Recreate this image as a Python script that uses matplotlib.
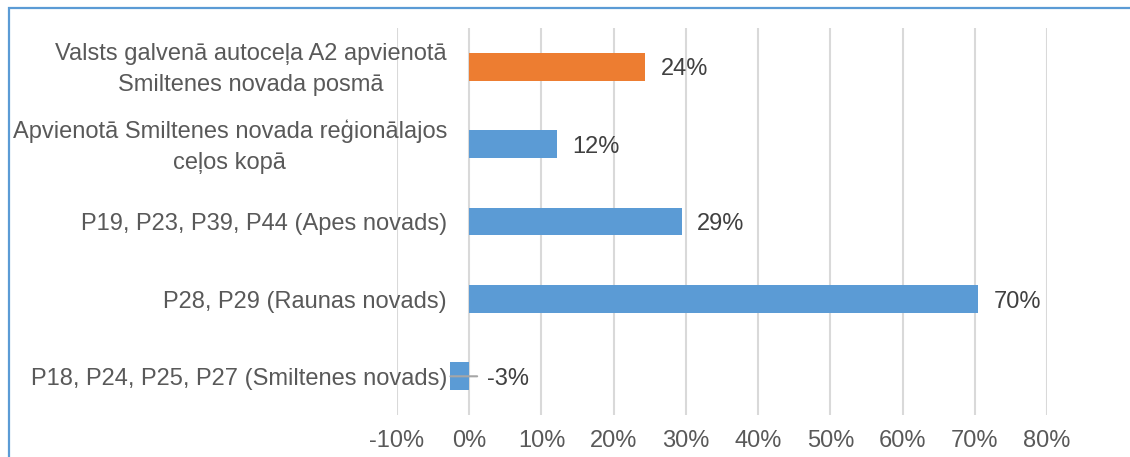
import matplotlib.pyplot as plt
from matplotlib.patches import Rectangle

plt.rcParams['font.family'] = ['Liberation Sans', 'DejaVu Sans']

# road sections, bottom to top
sections = [
    "P18, P24, P25, P27 (Smiltenes novads)",
    "P28, P29 (Raunas novads)",
    "P19, P23, P39, P44 (Apes novads)",
    "Apvienotā Smiltenes novada reģionālajos\nceļos kopā",
    "Valsts galvenā autoceļa A2 apvienotā\nSmiltenes novada posmā",
]
change_pct = [-2.6, 70.5, 29.4, 12.2, 24.4]
bar_colors = ["#5B9BD5", "#5B9BD5", "#5B9BD5", "#5B9BD5", "#ED7D31"]
x_ticks = [-10, 0, 10, 20, 30, 40, 50, 60, 70, 80]

fig = plt.figure(figsize=(11.3, 4.57), dpi=100)
ax = fig.add_axes([397 / 1130, 42 / 457, 650 / 1130, 387 / 457])

# chart frame, only its top-left corner is in view
fig.add_artist(Rectangle((9 / 1130, -0.1), 1.2, 1.1 - 8 / 457,
                         transform=fig.transFigure, fill=False,
                         edgecolor="#5B9BD5", linewidth=1.6))

ypos = list(range(len(sections)))
ax.barh(ypos, change_pct, height=0.36, color=bar_colors, zorder=3)

# category names hang off the zero line, lines centred within each label
for y, name in zip(ypos, sections):
    ax.annotate(name, xy=(0, y), xytext=(-16, -2), textcoords="offset points",
                ha="right", va="center", multialignment="center",
                linespacing=1.5, fontsize=17, color="#595959",
                annotation_clip=False)

for y, v in zip(ypos, change_pct):
    label = "%.0f%%" % v
    if v >= 0:
        ax.annotate(label, xy=(v, y), xytext=(11, -2), textcoords="offset points",
                    va="center", ha="left", fontsize=17, color="#404040")
    else:
        # label sits right of zero, tied to the bar with a leader line
        ax.annotate(label, xy=(0, y), xytext=(12.5, -2), textcoords="offset points",
                    va="center", ha="left", fontsize=17, color="#404040")
        ax.annotate("", xy=(v, y), xytext=(1.1, y),
                    arrowprops=dict(arrowstyle="-", color="#A6A6A6", lw=1.5,
                                    shrinkA=0, shrinkB=0), zorder=4)

ax.set_xlim(-10, 80)
ax.set_ylim(-0.5, len(sections) - 0.5)
ax.set_xticks(x_ticks)
ax.set_xticklabels(["%d%%" % t for t in x_ticks])
ax.grid(axis="x", color="#D9D9D9", linewidth=1.5, zorder=0)
ax.set_yticks([])
for s in ax.spines.values():
    s.set_visible(False)

ax.tick_params(axis="x", length=0, pad=11, labelsize=17, labelcolor="#595959")

fig.savefig("out.png", dpi=100)
